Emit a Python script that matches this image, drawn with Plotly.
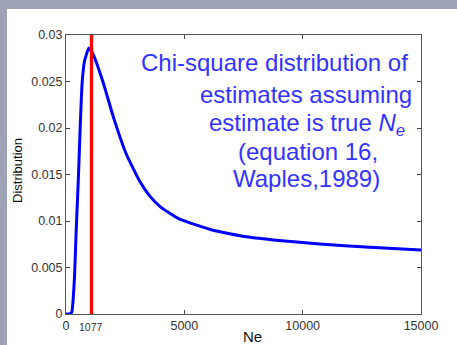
import plotly.graph_objects as go

# valores
ne = [0, 150, 245, 300, 360, 431, 529, 600, 685, 783, 965, 1134, 1557, 2000,
      2547, 3110, 3533, 4000, 4802, 6212, 7624, 9000, 10719, 12835, 15000]
dist = [0, 0, 0.0002, 0.0015, 0.0040, 0.0090, 0.0150, 0.0201, 0.0250, 0.0272,
        0.0286, 0.0280, 0.0250, 0.0212, 0.0172, 0.0143, 0.0127, 0.0115,
        0.0102, 0.0090, 0.0083, 0.0079, 0.00753, 0.00717, 0.00688]
ne_true = 1077
x_ticks = [0, 5000, 10000, 15000]
x_labels = ['0', '5000', '10000', '15000']
y_ticks = [0, 0.005, 0.01, 0.015, 0.02, 0.025, 0.03]
y_labels = ['0', '0.005', '0.01', '0.015', '0.02', '0.025', '0.03']

FONT = 'Liberation Sans, Arial, sans-serif'
BLUE_TXT = '#3333ff'

fig = go.Figure()

fig.add_trace(go.Scatter(
    x=ne, y=dist, mode='lines',
    line=dict(color='#0000ff', width=3, shape='spline', smoothing=0.4),
    showlegend=False
))

fig.add_trace(go.Scatter(
    x=[ne_true, ne_true], y=[0, 0.03], mode='lines',
    line=dict(color='#ff0000', width=3.3),
    showlegend=False
))

def px_x(p):
    return (p - 66) / 355

def px_y(p):
    return (314 - p) / 279

linhas = [
    ('Chi-square distribution of', 274, 63),
    ('estimates assuming', 306, 94),
    ('estimate is true <i>N</i><sub><i>e</i></sub>', 307, 124),
    ('(equation 16,', 307.5, 151),
    ('Waples,1989)', 306, 178),
]
for txt, cx, cy in linhas:
    fig.add_annotation(
        text=txt, x=px_x(cx), y=px_y(cy), xref='paper', yref='paper',
        xanchor='center', yanchor='middle', showarrow=False,
        font=dict(family=FONT, size=24, color=BLUE_TXT)
    )

# rótulo do valor verdadeiro, menor e um pouco abaixo dos outros
fig.add_annotation(
    text=str(ne_true), x=ne_true, xref='x', y=px_y(327), yref='paper',
    xanchor='center', yanchor='middle', showarrow=False,
    font=dict(family=FONT, size=10.5, color='#333')
)

# títulos dos eixos
fig.add_annotation(
    text='Distribution', x=px_x(17), y=px_y(170), xref='paper', yref='paper',
    xanchor='center', yanchor='middle', textangle=-90, showarrow=False,
    font=dict(family=FONT, size=13, color='#111')
)
fig.add_annotation(
    text='Ne', x=px_x(252), y=px_y(336), xref='paper', yref='paper',
    xanchor='center', yanchor='middle', showarrow=False,
    font=dict(family=FONT, size=15, color='#111')
)

fig.update_layout(
    width=457, height=345,
    margin=dict(l=66, r=36, t=35, b=31),
    paper_bgcolor='#9fa3b7',
    plot_bgcolor='white',
    font=dict(family=FONT, size=12.5, color='#333'),
    xaxis=dict(
        range=[0, 15000], tickvals=x_ticks, ticktext=x_labels,
        ticks='inside', ticklen=4, tickcolor='#444',
        showline=True, linecolor='#555', linewidth=1, mirror='ticks',
        showgrid=False, zeroline=False, fixedrange=True
    ),
    yaxis=dict(
        range=[0, 0.03], tickvals=y_ticks, ticktext=y_labels,
        ticks='inside', ticklen=4, tickcolor='#444',
        showline=True, linecolor='#555', linewidth=1, mirror='ticks',
        showgrid=False, zeroline=False, fixedrange=True
    ),
    shapes=[dict(
        type='rect', xref='paper', yref='paper', layer='below',
        x0=px_x(7), x1=px_x(470), y0=px_y(360), y1=px_y(9),
        fillcolor='white', line=dict(width=0)
    )]
)

fig.write_html('out.html', config={'displayModeBar': False},
               post_script="document.body.style.margin='0';")
